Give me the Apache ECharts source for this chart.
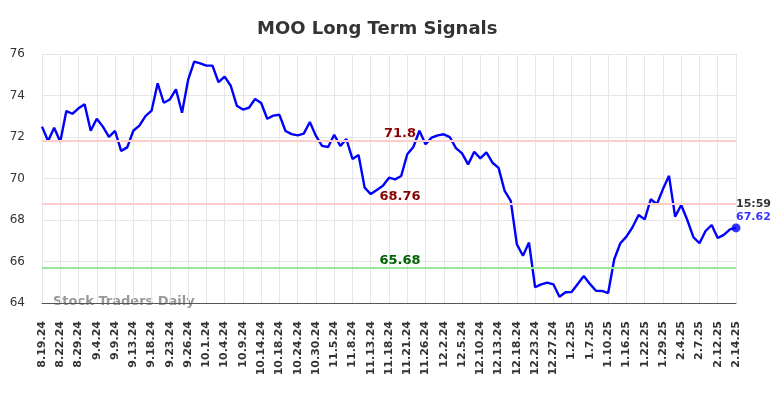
<!DOCTYPE html>
<html>
<head>
<meta charset="utf-8">
<script src="https://cdn.jsdelivr.net/npm/echarts@6/dist/echarts.min.js"></script>
<style>
  html, body { margin: 0; padding: 0; background: #fff; }
  #main { width: 784px; height: 398px; }
</style>
</head>
<body>
<div id="main"></div>
<script>
// tick labels on the x axis (one every 3 points)
var tickLabels = ['8.19.24','8.22.24','8.29.24','9.4.24','9.9.24','9.13.24','9.18.24','9.23.24','9.26.24',
    '10.1.24','10.4.24','10.9.24','10.14.24','10.18.24','10.24.24','10.30.24','11.5.24','11.8.24','11.13.24',
    '11.18.24','11.21.24','11.26.24','12.2.24','12.5.24','12.10.24','12.13.24','12.18.24','12.23.24','12.27.24',
    '1.2.25','1.7.25','1.10.25','1.16.25','1.22.25','1.29.25','2.4.25','2.7.25','2.12.25','2.14.25'];

// closing prices
var prices = [72.50, 71.81, 72.45, 71.77, 73.25, 73.12, 73.38, 73.58, 72.30, 72.88,
    72.50, 72.01, 72.29, 71.33, 71.50, 72.30, 72.55, 73.01, 73.27, 74.59,
    73.65, 73.81, 74.30, 73.17, 74.75, 75.63, 75.55, 75.44, 75.44, 74.64,
    74.91, 74.47, 73.51, 73.32, 73.41, 73.83, 73.64, 72.88, 73.03, 73.07,
    72.29, 72.14, 72.08, 72.16, 72.72, 72.05, 71.57, 71.52, 72.11, 71.57,
    71.90, 70.94, 71.13, 69.56, 69.25, 69.45, 69.65, 70.04, 69.96, 70.12,
    71.17, 71.52, 72.30, 71.65, 71.97, 72.08, 72.13, 71.99, 71.46, 71.21,
    70.68, 71.29, 70.97, 71.26, 70.76, 70.51, 69.40, 68.92, 66.83, 66.28,
    66.91, 64.76, 64.90, 64.98, 64.90, 64.30, 64.52, 64.53, 64.92, 65.30,
    64.92, 64.59, 64.58, 64.48, 66.11, 66.88, 67.20, 67.65, 68.24, 68.03,
    69.00, 68.76, 69.49, 70.13, 68.16, 68.72, 68.00, 67.17, 66.88, 67.47,
    67.76, 67.13, 67.28, 67.55, 67.62];

// signal levels
var upperLevels = [71.8, 68.76];
var lowerLevels = [65.68];
var lastTime = '15:59';

var seriesData = prices.map(function (v, i) { return [i, v]; });
var lastIdx = prices.length - 1;

var markLines = [];
upperLevels.forEach(function (v) {
    markLines.push({
        yAxis: v,
        lineStyle: { color: '#ffcccc', width: 2, type: 'solid' },
        label: { color: '#8b0000' }
    });
});
lowerLevels.forEach(function (v) {
    markLines.push({
        yAxis: v,
        lineStyle: { color: '#99e699', width: 2, type: 'solid' },
        label: { color: '#006400' }
    });
});

var chart = echarts.init(document.getElementById('main'));
var option = {
    backgroundColor: '#fff',
    animation: false,
    textStyle: { fontFamily: 'DejaVu Sans' },
    title: {
        text: 'MOO Long Term Signals',
        left: 252,
        top: 15,
        textStyle: { fontSize: 18, fontWeight: 'bold', color: '#333', fontFamily: 'DejaVu Sans' }
    },
    graphic: [{
        type: 'text',
        left: 53,
        top: 295,
        silent: true,
        style: {
            text: 'Stock Traders Daily',
            fill: '#999',
            font: 'bold 13px "DejaVu Sans"'
        }
    }],
    grid: { left: 42, right: 48, top: 54, bottom: 95 },
    xAxis: {
        type: 'value',
        min: 0,
        max: lastIdx,
        interval: 3,
        axisLine: { show: true, onZero: false, lineStyle: { color: '#555', width: 1 } },
        axisTick: { show: false },
        splitLine: { show: true, lineStyle: { color: '#e6e6e6', width: 1 } },
        axisLabel: {
            rotate: 90,
            margin: 18,
            fontSize: 11,
            fontWeight: 'bold',
            color: '#333',
            showMinLabel: true,
            showMaxLabel: true,
            formatter: function (v) { return tickLabels[Math.round(v / 3)] || ''; }
        }
    },
    yAxis: {
        type: 'value',
        min: 64,
        max: 76,
        interval: 2,
        axisLine: { show: false },
        axisTick: { show: false },
        splitLine: { lineStyle: { color: '#e6e6e6', width: 1 } },
        axisLabel: { fontSize: 12, color: '#333', margin: 17 }
    },
    series: [
        {
            type: 'line',
            data: seriesData,
            symbol: 'none',
            lineStyle: { color: '#0000ff', width: 2.4 },
            z: 3,
            markLine: {
                silent: true,
                symbol: 'none',
                label: {
                    position: 'insideMiddleTop',
                    distance: 1,
                    offset: [11, 0],
                    fontSize: 13,
                    fontWeight: 'bold',
                    formatter: function (p) { return p.value; }
                },
                data: markLines
            }
        },
        {
            type: 'scatter',
            data: [[lastIdx, prices[lastIdx]]],
            symbolSize: 9,
            itemStyle: { color: '#0000ff' },
            z: 4,
            label: {
                show: true,
                position: 'top',
                align: 'left',
                distance: 0,
                formatter: function (p) { return '{t|' + lastTime + '}\n{v|' + p.value[1].toFixed(2) + '}'; },
                rich: {
                    t: { color: '#000', fontWeight: 'bold', fontSize: 11, lineHeight: 13 },
                    v: { color: '#0000ff', fontWeight: 'bold', fontSize: 11, lineHeight: 13 }
                }
            }
        }
    ]
};
chart.setOption(option);
</script>
</body>
</html>
